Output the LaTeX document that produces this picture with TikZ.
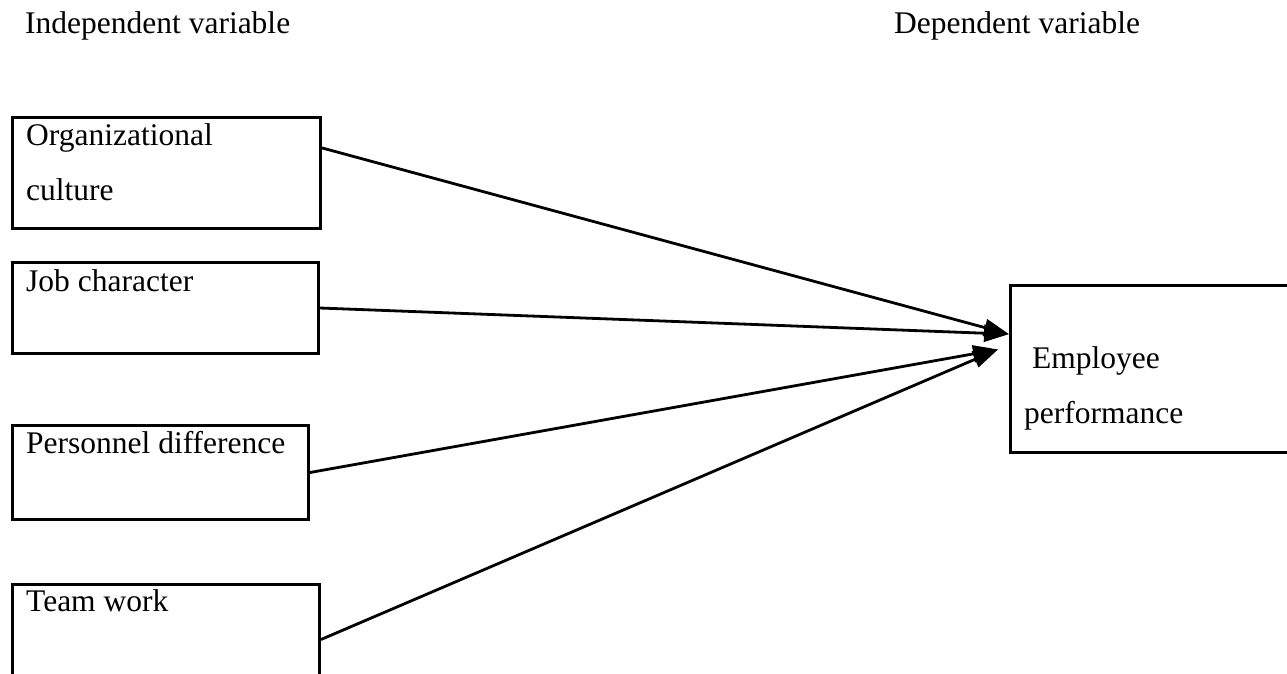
\documentclass[tikz,border=0pt]{standalone}
\usepackage{fontspec}
\setmainfont{Liberation Serif}
\usetikzlibrary{arrows.meta,calc}
\begin{document}
\begin{tikzpicture}[x=1pt,y=-1pt,
  box/.style={draw,line width=3pt,rectangle,inner sep=0pt,anchor=north west},
  lbl/.style={anchor=base west,inner sep=0pt,font=\fontsize{31.5}{36}\selectfont},
  conn/.style={line width=2.8pt,-{Triangle[length=25pt,width=17pt]}}]
\useasboundingbox (0,0) rectangle (1287,673);
\clip (0,0) rectangle (1287,673);
\node[lbl] (hind) at (25,33) {Independent variable};
\node[lbl] (hdep) at (894,33) {Dependent variable};
\node[box,minimum width=308pt,minimum height=111pt] (b1) at (11,116) {};
\node[box,minimum width=306pt,minimum height=91pt] (b2) at (11,261) {};
\node[box,minimum width=296pt,minimum height=94pt] (b3) at (11,424) {};
\node[box,minimum width=307pt,minimum height=110pt] (b4) at (11,583) {};
\node[box,minimum width=300pt,minimum height=167pt] (emp) at (1009,284) {};
\node[lbl] (t1a) at (26,145) {Organizational};
\node[lbl] (t1b) at (26,200) {culture};
\node[lbl] (t2) at (26,291) {Job character};
\node[lbl] (t3) at (26,453) {Personnel difference};
\node[lbl] (t4) at (26,611) {Team work};
\node[lbl] (t5a) at (1032,368) {Employee};
\node[lbl] (t5b) at (1024,423) {performance};
\coordinate (s1) at ($(b1.north east)!0.28!(b1.south east)$);
\coordinate (s4) at ($(b4.north east)!0.5!(b4.south east)$);
\coordinate (tipA) at ($(emp.north west)!0.295!(emp.south west)$);
\coordinate (tipB) at ($(emp.north west)!0.385!(emp.south west)+(-11,0)$);
\draw[conn] (s1) -- (tipA);
\draw[conn] (b2.east) -- (tipA);
\draw[conn] (b3.east) -- (tipB);
\draw[conn] (s4) -- (tipB);
\end{tikzpicture}
\end{document}
